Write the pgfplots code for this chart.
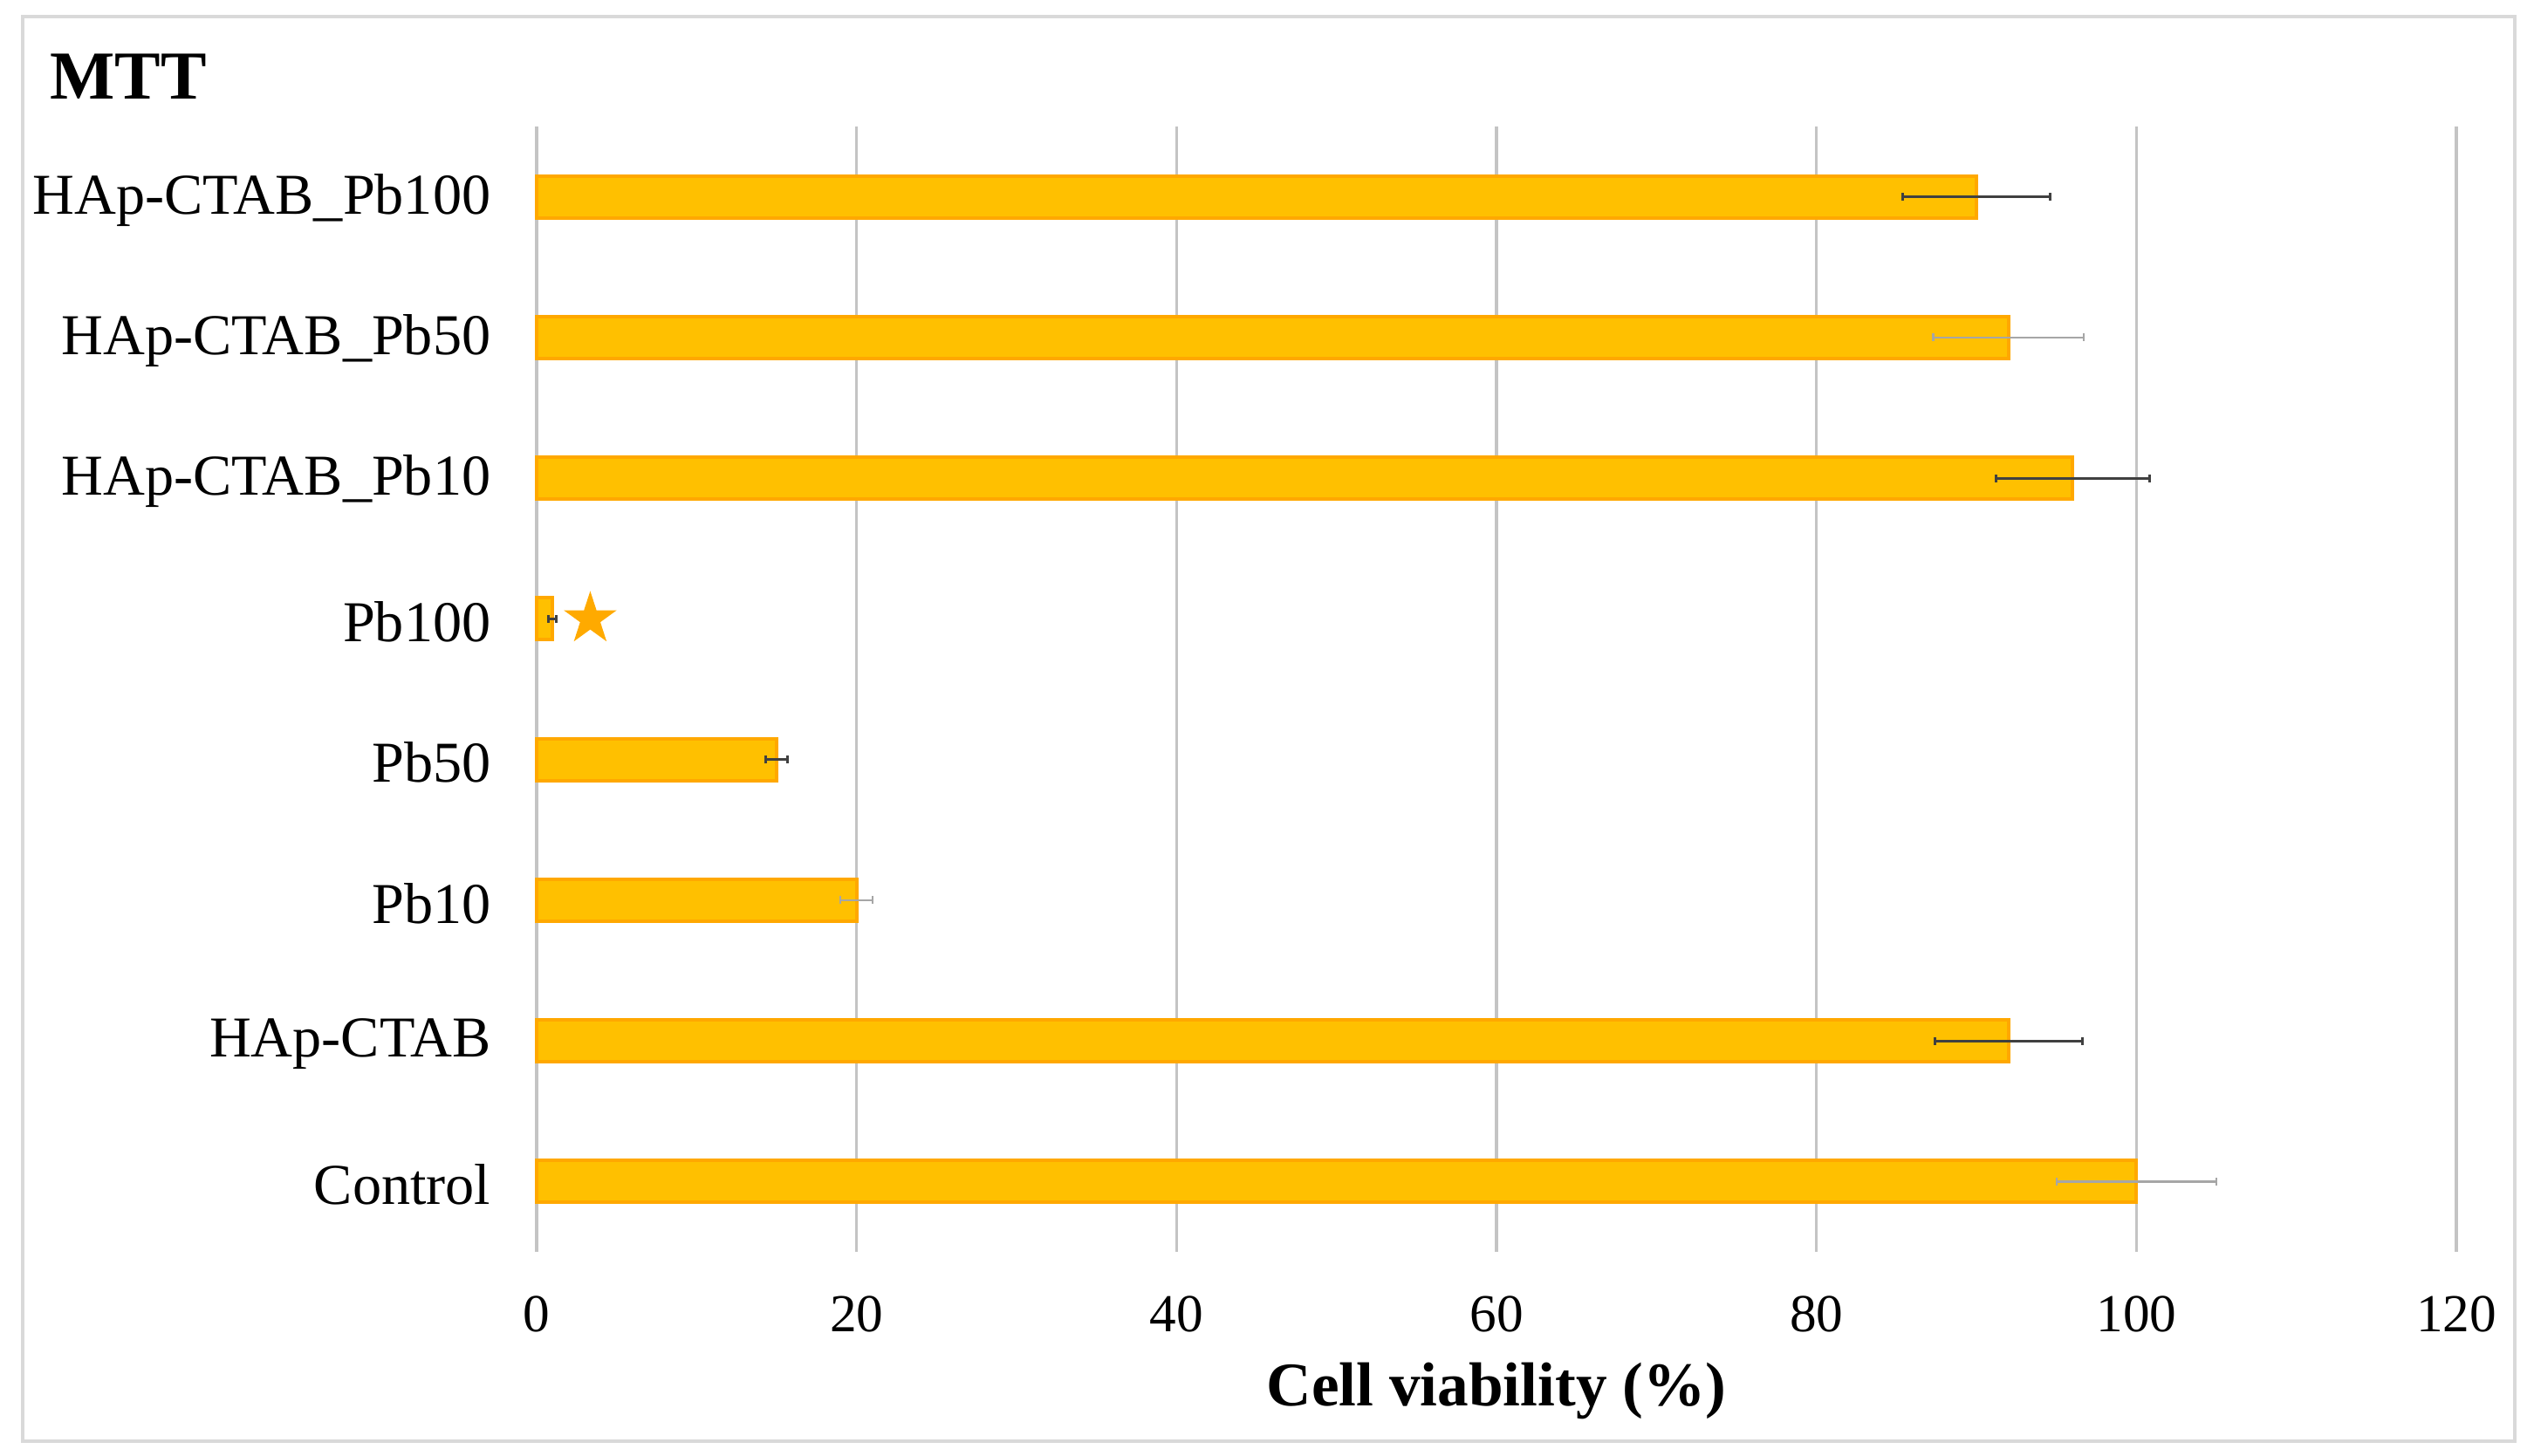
\documentclass[border=0pt]{standalone}
\usepackage{fontspec}
\setmainfont{Liberation Serif}
\usepackage{pgfplots}
\usepackage{pgfplotstable}
\pgfplotsset{compat=1.18}

\definecolor{barfill}{HTML}{FFC000}
\definecolor{baredge}{HTML}{FFA800}
\definecolor{gridgray}{HTML}{C4C4C4}
\definecolor{errdark}{HTML}{404040}
\definecolor{errlight}{HTML}{A6A6A6}
\definecolor{framegray}{HTML}{D9D9D9}
\definecolor{starorange}{HTML}{FFAA00}

% filled five-pointed star
\pgfdeclareplotmark{fstar}{%
  \pgfpathmoveto{\pgfpointpolar{90}{\pgfplotmarksize}}%
  \pgfpathlineto{\pgfpointpolar{126}{0.382\pgfplotmarksize}}%
  \pgfpathlineto{\pgfpointpolar{162}{\pgfplotmarksize}}%
  \pgfpathlineto{\pgfpointpolar{198}{0.382\pgfplotmarksize}}%
  \pgfpathlineto{\pgfpointpolar{234}{\pgfplotmarksize}}%
  \pgfpathlineto{\pgfpointpolar{270}{0.382\pgfplotmarksize}}%
  \pgfpathlineto{\pgfpointpolar{306}{\pgfplotmarksize}}%
  \pgfpathlineto{\pgfpointpolar{342}{0.382\pgfplotmarksize}}%
  \pgfpathlineto{\pgfpointpolar{18}{\pgfplotmarksize}}%
  \pgfpathlineto{\pgfpointpolar{54}{0.382\pgfplotmarksize}}%
  \pgfpathclose
  \pgfusepathqfillstroke}

% bars: y index, viability
\pgfplotstableread{
y val
0 100
1 92
2 20
3 15
4 1
5 96
6 92
7 90
}\bars

% error bars drawn dark
\pgfplotstableread{
y val err
1 92 4.6
3 15 0.7
4 1 0.25
5 96 4.8
7 90 4.6
}\errdark

% error bars drawn light grey
\pgfplotstableread{
y val err
0 100 5.0
2 20 1.0
6 92 4.7
}\errlight

\begin{document}
\begin{tikzpicture}[x=1bp,y=1bp]
\useasboundingbox (-123,-46.6) rectangle (457.8,287);
\draw[framegray, line width=0.9bp] (-117.8,-43.4) rectangle (453.4,283.2);
\begin{axis}[
    at={(0,0)}, anchor=south west,
    width=440bp, height=258bp, scale only axis,
    xmin=0, xmax=120, ymin=-0.5, ymax=7.5,
    xtick={0,20,...,120},
    ytick={0,...,7},
    yticklabels={Control, HAp-CTAB, Pb10, Pb50, Pb100,
      HAp-CTAB\_Pb10, HAp-CTAB\_Pb50, HAp-CTAB\_Pb100},
    axis line style={draw=none},
    major tick style={draw=none},
    xmajorgrids,
    major grid style={gridgray, line width=0.7bp},
    /pgf/number format/assume math mode=true,
    xticklabel style={font=\fontsize{12.3}{14}\selectfont, yshift=-6.6bp},
    yticklabel style={font=\fontsize{13.3}{15}\selectfont, xshift=-7bp, yshift=-0.7bp},
    xlabel={\textbf{Cell viability (\%)}},
    xlabel style={font=\fontsize{14.3}{17}\selectfont,
      at={(axis description cs:0.5,0)}, anchor=center, yshift=-31.8bp},
    clip=false,
  ]
  \addplot[xbar, bar width=9.6bp, fill=barfill, draw=baredge, line width=0.8bp]
    table[x=val, y=y] {\bars};

  \addplot[draw=none, mark=none,
    error bars/.cd, x dir=both, x explicit,
    error bar style={draw=errdark, line width=0.6bp},
    error mark=|, error mark options={draw=errdark, mark size=0.9bp, line width=0.6bp}]
    table[x=val, y=y, x error=err] {\errdark};

  \addplot[draw=none, mark=none,
    error bars/.cd, x dir=both, x explicit,
    error bar style={draw=errlight, line width=0.45bp},
    error mark=|, error mark options={draw=errlight, mark size=0.9bp, line width=0.45bp}]
    table[x=val, y=y, x error=err] {\errlight};

  % significance star beside Pb100
  \addplot[only marks, mark=fstar, mark size=5.9bp,
    mark options={fill=starorange, draw=starorange, line width=0.3bp}]
    coordinates {(3.35,4)};

  \node[anchor=west, font=\fontsize{15.8}{18}\selectfont\bfseries]
    at (rel axis cs:0,1) [xshift=-115bp, yshift=11.4bp] {MTT};
\end{axis}
\end{tikzpicture}
\end{document}
